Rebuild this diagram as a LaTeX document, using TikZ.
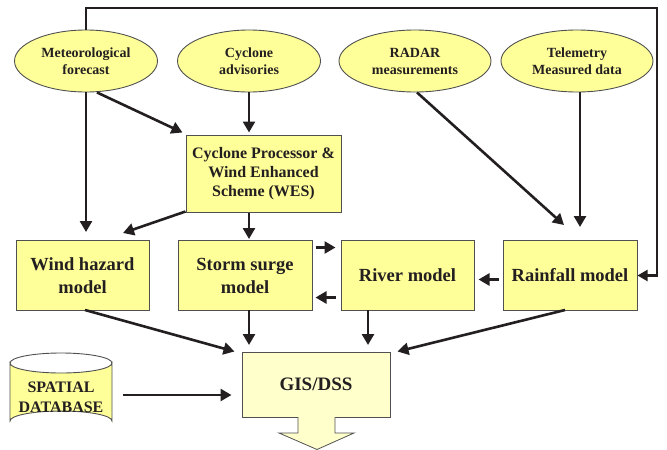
\documentclass[tikz,border=0pt]{standalone}
\usepackage{fontspec}
\setmainfont{Liberation Serif}
\usetikzlibrary{shapes.geometric,arrows.meta}
\definecolor{boxy}{RGB}{255,255,153}
\definecolor{palebox}{RGB}{255,255,204}
\definecolor{edge}{RGB}{80,80,80}
\definecolor{ink}{RGB}{35,31,32}
\tikzset{
  oval/.style={ellipse,draw=edge,line width=0.9pt,fill=boxy,inner sep=0pt,minimum height=62pt,
    align=center,font=\fontsize{14}{17}\selectfont\bfseries,text=ink},
  modelbox/.style={rectangle,draw=edge,line width=1pt,fill=boxy,inner sep=0pt,minimum height=70pt,
    align=center,font=\fontsize{18.5}{23}\selectfont\bfseries,text=ink},
  arr/.style={draw=ink,line width=2.6pt,-{Triangle[length=11pt,width=12pt]}},
}
\begin{document}
\begin{tikzpicture}[x=1pt,y=-1pt]
\useasboundingbox (0,0) rectangle (667,450);
% ellipses
\node[oval,minimum width=143pt] (met) at (86,61) {Meteorological\\forecast};
\node[oval,minimum width=143pt] (cyc) at (249,61) {Cyclone\\advisories};
\node[oval,minimum width=152pt] (radar) at (415,61) {RADAR\\measurements};
\node[oval,minimum width=152pt] (tele) at (577,61) {Telemetry\\Measured data};
% processor
\node[modelbox,minimum width=155pt,minimum height=77pt,font=\fontsize{16}{19}\selectfont\bfseries] (cp) at (263.5,173.5) {Cyclone Processor \&\\Wind Enhanced\\Scheme (WES)};
% models
\node[modelbox,minimum width=133pt] (wind) at (82.5,275.5) {Wind hazard\\model};
\node[modelbox,minimum width=134pt] (storm) at (245,275.5) {Storm surge\\model};
\node[modelbox,minimum width=133pt] (river) at (407.5,275.5) {River model};
\node[modelbox,minimum width=134pt] (rain) at (570,275.5) {Rainfall model};
% GIS
\node[modelbox,fill=palebox,minimum width=148pt,minimum height=65pt,font=\fontsize{19}{23}\selectfont\bfseries] (gis) at (316,384.5) {GIS/DSS};
% output arrow
\filldraw[draw=edge,line width=0.8pt,fill=palebox] (298,417) -- (298,433) -- (279,433) -- (317,449.5) -- (354,433) -- (335,433) -- (335,417);
% database cylinder
\filldraw[draw=edge,line width=0.9pt,fill=boxy] (10,363) -- (10,421) arc[start angle=180,end angle=360,x radius=51,y radius=10] -- (112,363) arc[start angle=0,end angle=180,x radius=51,y radius=10] -- cycle;
\draw[edge,line width=0.9pt] (10,363) arc[start angle=180,end angle=360,x radius=51,y radius=10];
\node[align=center,inner sep=0pt,font=\fontsize{16}{20}\selectfont\bfseries,text=ink,minimum width=100pt,minimum height=50pt] (db) at (61,397) {SPATIAL\\DATABASE};
% connectors
\coordinate (c1) at (86,8);
\coordinate (c2) at (657,8);
\draw[arr,-{Triangle[length=10pt,width=11pt]},line width=2.2pt] (met.north) -- (c1) -- (c2) -- (c2 |- rain.east) -- (rain.east);
\draw[arr] (met.south) -- ([yshift=8pt]met.south |- wind.north);
\draw[arr] (met.south) ++(11,0) -- ([xshift=-3pt,yshift=2pt]cp.north west);
\draw[arr] (cyc.south) -- ([yshift=2pt]cyc.south |- cp.north);
\draw[arr] ([yshift=1pt]cp.south west) -- (123,233);
\draw[arr] (cp.south -| storm.north) ++(4,0) -- ([xshift=4pt,yshift=1pt]storm.north);
\draw[arr] (radar.south) ++(2,0) -- (564,225);
\draw[arr] (tele.south) ++(3,0) -- ([yshift=14pt]580,241);
\draw[arr] ([xshift=3pt,yshift=28pt]storm.east) -- ([xshift=-5pt,yshift=28pt]river.west);
\draw[arr] ([xshift=-5pt,yshift=-22pt]river.west) -- ([xshift=3pt,yshift=-22pt]storm.east);
\draw[arr] ([xshift=-4pt,yshift=-4pt]rain.west) -- ([xshift=4pt,yshift=-4pt]river.east);
\draw[arr] (85,310) -- ([xshift=-7pt]gis.north west);
\draw[arr] (249,310) -- (249,345);
\draw[arr] (368,310) -- (368,345);
\draw[arr] (565,310) -- ([xshift=7pt]gis.north east);
\draw[arr] (123,395) -- ([xshift=-10pt]gis.west |- 0,395);
\end{tikzpicture}
\end{document}
